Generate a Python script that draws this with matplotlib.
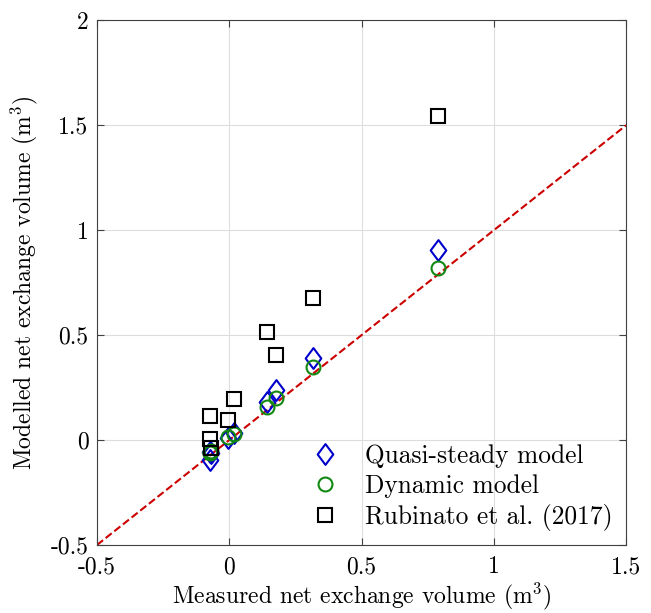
import matplotlib
matplotlib.use("Agg")
import matplotlib.pyplot as plt
from matplotlib.path import Path

plt.rcParams['font.family'] = 'serif'
plt.rcParams['font.serif'] = ['cmr10', 'DejaVu Serif']
plt.rcParams['mathtext.fontset'] = 'cm'
plt.rcParams['axes.unicode_minus'] = False

# measured net exchange volume (m^3)
measured = [-0.072, -0.072, -0.070, -0.004, 0.019, 0.144, 0.178, 0.318, 0.788]
# modelled values
quasi_steady = [-0.095, -0.057, -0.060, 0.010, 0.035, 0.180, 0.238, 0.390, 0.905]
dynamic = [-0.062, -0.055, -0.050, 0.012, 0.029, 0.157, 0.200, 0.348, 0.819]
rubinato = [0.114, 0.005, -0.040, 0.095, 0.195, 0.514, 0.405, 0.676, 1.543]

ticks = [-0.5, 0, 0.5, 1, 1.5, 2]
tick_labels = ['-0.5', '0', '0.5', '1', '1.5', '2']

# matlab-style diamond, a bit wider than matplotlib's 'd'
diamond = Path([(0, 1), (0.75, 0), (0, -1), (-0.75, 0), (0, 1)],
               [Path.MOVETO, Path.LINETO, Path.LINETO, Path.LINETO, Path.CLOSEPOLY])

fig = plt.figure(figsize=(6.51, 6.13), dpi=100)
ax = fig.add_axes([0.149, 0.111, 0.813, 0.856])

ax.plot([-0.5, 1.5], [-0.5, 1.5], '--', color='#cc0000', lw=1.5, zorder=1)
ax.plot(measured, quasi_steady, marker=diamond, ls='none', mfc='none', mec='#0000cc',
        mew=1.5, ms=15, label='Quasi-steady model', zorder=3)
ax.plot(measured, dynamic, 'o', mfc='none', mec='#118811', mew=1.5, ms=10,
        label='Dynamic model', zorder=3)
ax.plot(measured, rubinato, 's', mfc='none', mec='black', mew=1.5, ms=9.5,
        label='Rubinato et al. (2017)', zorder=3)

ax.set_xlim(-0.5, 1.5)
ax.set_ylim(-0.5, 2)
ax.set_xticks(ticks[:5])
ax.set_xticklabels(tick_labels[:5])
ax.set_yticks(ticks)
ax.set_yticklabels(tick_labels)
ax.tick_params(direction='in', top=True, right=True, labelsize=17, length=5,
               color='#404040')
ax.tick_params(axis='x', pad=8)
ax.tick_params(axis='y', pad=6)
ax.grid(True, color='#dddddd', lw=0.8)
ax.set_axisbelow(True)
for s in ax.spines.values():
    s.set_color('#404040')

ax.set_xlabel(r'Measured net exchange volume (m$^3$)', fontsize=17, labelpad=2)
ax.set_ylabel(r'Modelled net exchange volume (m$^3$)', fontsize=17, labelpad=8)

ax.legend(loc='lower right', frameon=False, fontsize=18.3, handletextpad=0.8,
          borderaxespad=0.15, labelspacing=0.25, handlelength=1.5)

fig.savefig('out.png', dpi=100)
